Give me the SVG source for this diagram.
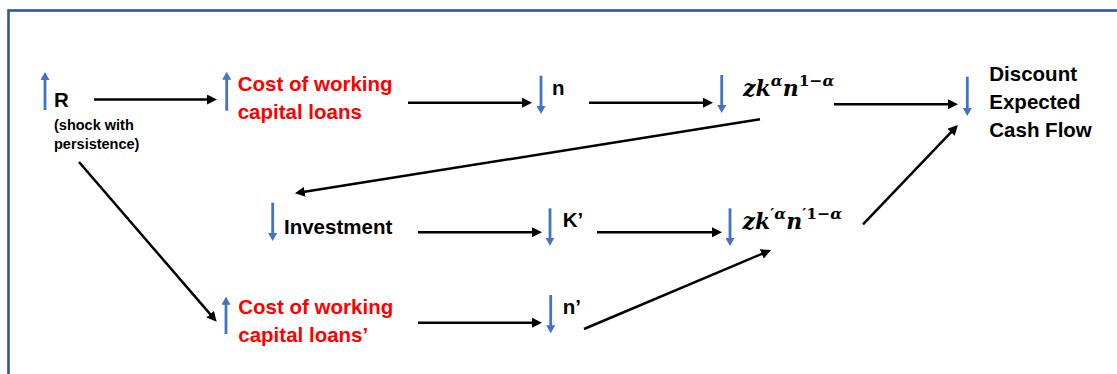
<svg xmlns="http://www.w3.org/2000/svg" width="1117" height="374" viewBox="0 0 1117 374">
  <style>
    .lbl { font-family: "Liberation Sans", Arial, sans-serif; font-weight: bold; font-size: 20.5px; fill: #000; }
    .red { fill: #FF0000; }
    .small { font-size: 14.5px; }
    .math { font-family: "DejaVu Serif", "Liberation Serif", serif; font-weight: bold; font-style: italic; font-size: 22px; fill: #000; }
    .sup { font-size: 15.5px; }
    .up { font-style: normal; }
    .move { stroke: #4472C4; stroke-width: 2.8; fill: none; marker-end: url(#blueHead); }
    .link { stroke: #000; stroke-width: 2.5; fill: none; marker-end: url(#blackHead); }
  </style>
  <defs>
    <marker id="blueHead" markerUnits="userSpaceOnUse" markerWidth="8" markerHeight="9" refX="4" refY="4.5" orient="auto">
      <path d="M0,0 L8,4.5 L0,9 z" fill="#4472C4"/>
    </marker>
    <marker id="blackHead" markerUnits="userSpaceOnUse" markerWidth="10" markerHeight="10" refX="5" refY="5" orient="auto">
      <path d="M0,0 L10,5 L0,10 z" fill="#000"/>
    </marker>
  </defs>

  <rect x="0" y="0" width="1117" height="374" fill="#fff"/>
  <!-- frame: only top and left edges fall inside the canvas -->
  <rect x="8.5" y="10.5" width="1200" height="500" fill="none" stroke="#2F5597" stroke-width="2.6"/>

  <g id="node-R">
    <line class="move" x1="45" y1="110" x2="45" y2="76"/>
    <text class="lbl" x="54" y="107">R</text>
    <text class="lbl small" x="54" y="129.5">(shock with</text>
    <text class="lbl small" x="54" y="148.5">persistence)</text>
  </g>

  <g id="node-cost">
    <line class="move" x1="226.7" y1="110.7" x2="226.7" y2="75.7"/>
    <text class="lbl red" x="237.7" y="90.7">Cost of working</text>
    <text class="lbl red" x="237.7" y="119">capital loans</text>
  </g>

  <g id="node-n">
    <line class="move" x1="541" y1="75.7" x2="541" y2="110"/>
    <text class="lbl" x="552" y="95">n</text>
  </g>

  <g id="node-output">
    <line class="move" x1="721.7" y1="75" x2="721.7" y2="109"/>
    <text class="math" x="743" y="96">zk<tspan class="sup" dy="-10">α</tspan><tspan dy="10">n</tspan><tspan class="sup" dy="-10"><tspan class="up">1−</tspan>α</tspan></text>
  </g>

  <g id="node-dcf">
    <line class="move" x1="967.3" y1="76.7" x2="967.3" y2="112"/>
    <text class="lbl" x="989.3" y="80.5">Discount</text>
    <text class="lbl" x="989.3" y="108.5">Expected</text>
    <text class="lbl" x="989.3" y="136.5">Cash Flow</text>
  </g>

  <g id="node-investment">
    <line class="move" x1="272.7" y1="202.7" x2="272.7" y2="237"/>
    <text class="lbl" x="284" y="234.3">Investment</text>
  </g>

  <g id="node-kprime">
    <line class="move" x1="550" y1="208.3" x2="550" y2="241.7"/>
    <text class="lbl" x="562.7" y="226.7">K’</text>
  </g>

  <g id="node-output-next">
    <line class="move" x1="730" y1="208.3" x2="730" y2="242"/>
    <text class="math" x="742.5" y="229">zk<tspan class="sup" dy="-10"><tspan class="up">′</tspan>α</tspan><tspan dy="10">n</tspan><tspan class="sup" dy="-10"><tspan class="up">′1−</tspan>α</tspan></text>
  </g>

  <g id="node-cost-next">
    <line class="move" x1="226" y1="334" x2="226" y2="300.7"/>
    <text class="lbl red" x="238.3" y="314.3">Cost of working</text>
    <text class="lbl red" x="238.3" y="341.7">capital loans’</text>
  </g>

  <g id="node-nprime">
    <line class="move" x1="550.7" y1="295" x2="550.7" y2="329.3"/>
    <text class="lbl" x="562.7" y="314.3">n’</text>
  </g>

  <g id="connectors">
    <line class="link" x1="94" y1="99.5" x2="212" y2="99.5"/>
    <line class="link" x1="408" y1="102.7" x2="527" y2="102.7"/>
    <line class="link" x1="589" y1="102.7" x2="708" y2="102.7"/>
    <line class="link" x1="834" y1="104.3" x2="953" y2="104.3"/>
    <line class="link" x1="760" y1="119.3" x2="299.9" y2="192.5"/>
    <line class="link" x1="418" y1="232.3" x2="537" y2="232.3"/>
    <line class="link" x1="597" y1="232.3" x2="717" y2="232.3"/>
    <line class="link" x1="863" y1="224.3" x2="954.5" y2="128.6"/>
    <line class="link" x1="79" y1="162" x2="213.4" y2="317.9"/>
    <line class="link" x1="418" y1="322.7" x2="537" y2="322.7"/>
    <line class="link" x1="584" y1="329" x2="766.4" y2="252"/>
  </g>
</svg>
